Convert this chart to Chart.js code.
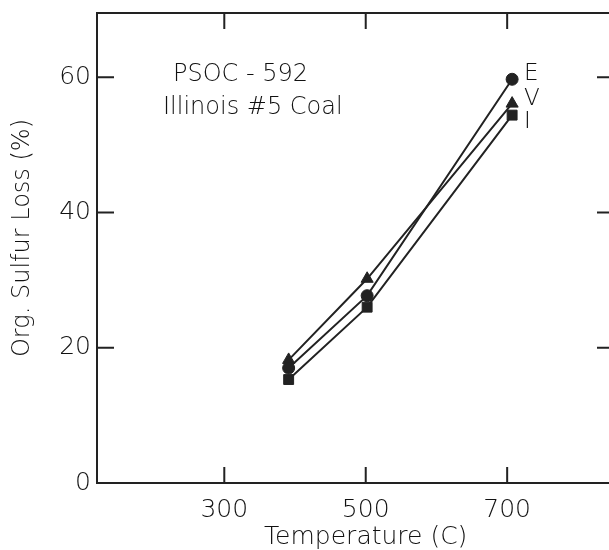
<!DOCTYPE html>
<html>
<head>
<meta charset="utf-8">
<script src="https://cdn.jsdelivr.net/npm/chart.js@4.4.1/dist/chart.umd.min.js"></script>
<style>
  html, body { margin: 0; padding: 0; background: #fff; overflow: hidden; }
  #wrap { width: 609px; height: 550px; position: relative; }
</style>
</head>
<body>
<div id="wrap"><canvas id="c" width="609" height="550"></canvas></div>
<script>
// ---- data ----
const temperatures = [391, 502, 707];          // Temperature (C)
const lossE = [17.0, 27.7, 59.7];              // series E (circles)
const lossV = [18.2, 30.2, 56.1];              // series V (triangles)
const lossI = [15.3, 26.0, 54.4];              // series I (squares)
const seriesNames = ['E', 'V', 'I'];
const xTickValues = [300, 500, 700];
const yTickValues = [0, 20, 40, 60];
const noteLines = ['PSOC - 592', 'Illinois #5 Coal'];
const xTitle = 'Temperature (C)';
const yTitle = 'Org. Sulfur Loss (%)';

const INK = '#222222';
const TXT = '#111111';
const FONT = '"DejaVu Sans", sans-serif';

function pts(vals) { return temperatures.map((t, i) => ({ x: t, y: vals[i] })); }

const framePlugin = {
  id: 'frame',
  afterDraw(chart) {
    const { ctx, chartArea: { left, top, right, bottom }, scales: { x, y } } = chart;
    ctx.save();
    ctx.strokeStyle = INK;
    ctx.lineWidth = 2;
    ctx.lineCap = 'square';
    ctx.beginPath();
    ctx.moveTo(right + 2, top); ctx.lineTo(left, top); ctx.lineTo(left, bottom); ctx.lineTo(right + 2, bottom);
    ctx.stroke();
    ctx.lineCap = 'butt';
    ctx.beginPath();
    x.ticks.forEach(t => {
      const px = x.getPixelForValue(t.value);
      ctx.moveTo(px, top); ctx.lineTo(px, top + 16);
      ctx.moveTo(px, bottom); ctx.lineTo(px, bottom - 16);
    });
    y.ticks.forEach(t => {
      if (t.value === 0) return;
      const py = y.getPixelForValue(t.value);
      ctx.moveTo(left, py); ctx.lineTo(left + 17, py);
      ctx.moveTo(right, py); ctx.lineTo(right - 12, py);
    });
    ctx.stroke();

    // series labels at the end of each line
    ctx.fillStyle = TXT;
    ctx.font = '200 23px ' + FONT;
    ctx.textBaseline = 'middle';
    ctx.textAlign = 'left';
    const dy = [-5, -5, 7];
    chart.data.datasets.forEach((ds, i) => {
      const meta = chart.getDatasetMeta(i);
      const p = meta.data[meta.data.length - 1];
      ctx.fillText(ds.label, p.x + 12, p.y + dy[i]);
    });

    // note text
    ctx.font = '200 24px ' + FONT;
    ctx.fillText(noteLines[0], left + 76, 75);
    ctx.fillText(noteLines[1], left + 66, 108);

    // axis titles
    ctx.font = '200 25px ' + FONT;
    ctx.textAlign = 'center';
    ctx.fillText(xTitle, x.getPixelForValue(500), 537);
    ctx.font = '200 24px ' + FONT;
    ctx.translate(23, 238);
    ctx.rotate(-Math.PI / 2);
    ctx.fillText(yTitle, 0, 0);
    ctx.restore();
  }
};

const common = { borderColor: INK, backgroundColor: INK, borderWidth: 2, pointBorderWidth: 1, tension: 0, fill: false };

new Chart(document.getElementById('c'), {
  type: 'line',
  data: {
    datasets: [
      { ...common, label: seriesNames[0], data: pts(lossE), pointStyle: 'circle', pointRadius: 6 },
      { ...common, label: seriesNames[1], data: pts(lossV), pointStyle: 'triangle', pointRadius: 7 },
      { ...common, label: seriesNames[2], data: pts(lossI), pointStyle: 'rect', pointRadius: 7 }
    ]
  },
  options: {
    responsive: false,
    animation: false,
    layout: { autoPadding: false, padding: { top: 13, right: 0, left: 0, bottom: 0 } },
    plugins: { legend: { display: false }, tooltip: { enabled: false } },
    scales: {
      x: {
        type: 'linear', min: 120, max: 844,
        afterBuildTicks: s => { s.ticks = xTickValues.map(v => ({ value: v })); },
        afterFit: s => { s.height = 67; s.paddingLeft = 0; s.paddingRight = 0; },
        grid: { display: false, drawTicks: false }, border: { display: false },
        ticks: { color: TXT, font: { family: FONT, size: 25, weight: '200' }, padding: 12, maxRotation: 0 },
        title: { display: false }
      },
      y: {
        type: 'linear', min: 0, max: 69.5,
        afterBuildTicks: s => { s.ticks = yTickValues.map(v => ({ value: v })); },
        afterFit: s => { s.width = 97; s.paddingTop = 0; s.paddingBottom = 0; },
        grid: { display: false, drawTicks: false }, border: { display: false },
        ticks: { color: TXT, font: { family: FONT, size: 25, weight: '200' }, padding: 6 },
        title: { display: false }
      }
    }
  },
  plugins: [framePlugin]
});
</script>
</body>
</html>
